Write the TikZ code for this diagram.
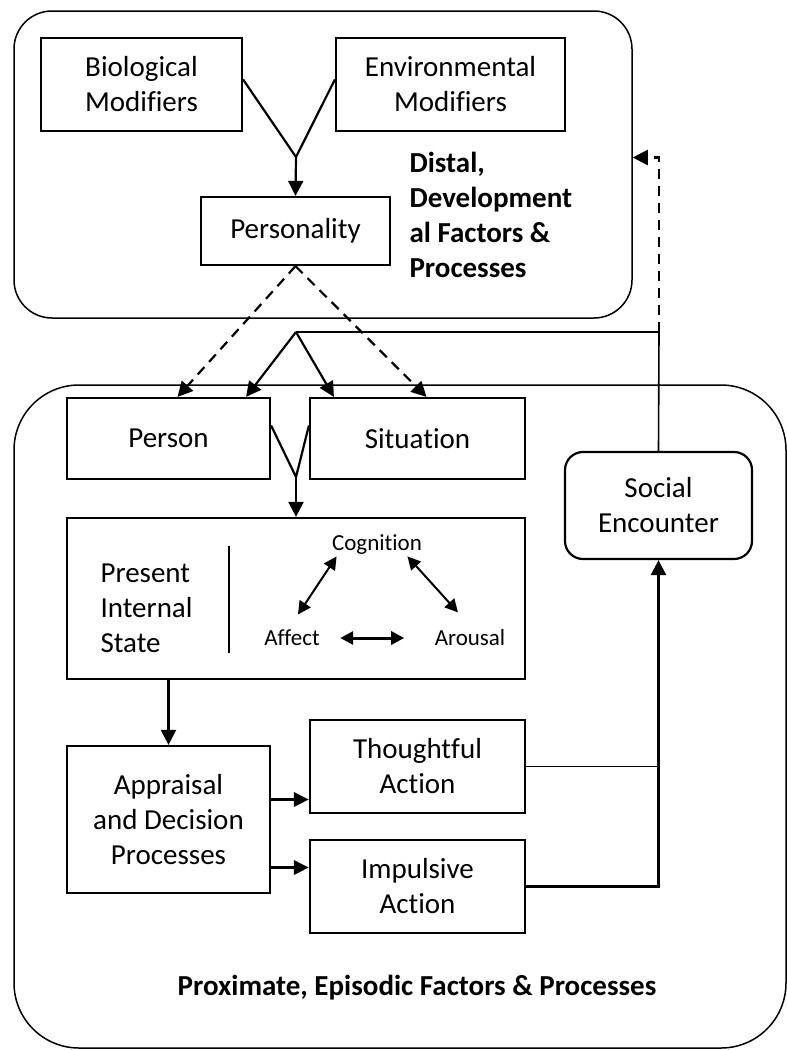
\documentclass[tikz,border=0pt]{standalone}
\usepackage{fontspec}
\setmainfont{Carlito}[Ligatures={NoCommon}]
\usetikzlibrary{arrows.meta}

\tikzset{
	box/.style = {draw, line width=2.2pt, align=center, inner sep=0pt, font=\fontsize{29}{35}\selectfont},
	frame/.style = {draw, line width=1.5pt, inner sep=0pt},
	arr/.style = {line width=2.2pt, -{Triangle[length=15pt,width=15pt]}},
	fat/.style = {line width=3pt, -{Triangle[length=15pt,width=14pt]}},
	dbl/.style = {line width=2pt, {Triangle[length=13pt,width=13pt]}-{Triangle[length=13pt,width=13pt]}},
	dashline/.style = {dash pattern=on 10pt off 7pt},
	small/.style = {font=\fontsize{23}{28}\selectfont},
	title/.style = {font=\bfseries\fontsize{29}{35}\selectfont, align=left},
}

\begin{document}
\begin{tikzpicture}[x=1pt,y=-1pt]
	\useasboundingbox (0,0) rectangle (787,1050);
	% frames
	\node [frame, rounded corners=38pt, minimum width=618pt, minimum height=307pt] (distal) at (323,164.5) {};
	\node [frame, rounded corners=65pt, minimum width=772pt, minimum height=663pt] (proximate) at (400,716.5) {};
	% distal part
	\node [box, minimum width=201pt, minimum height=93pt] (bio) at (141.5,84.5) {Biological\\Modifiers};
	\node [box, minimum width=229pt, minimum height=93pt] (env) at (450.5,84.5) {Environmental\\Modifiers};
	\node [box, minimum width=189pt, minimum height=68pt] (pers) at (295.5,231) {Personality};
	\node [title, anchor=west] (distaltxt) at (406,215) {Distal,\\Development\\al Factors \&\\Processes};
	% proximate part
	\node [box, minimum width=203pt, minimum height=81pt] (person) at (168.5,438.5) {Person};
	\node [box, minimum width=215pt, minimum height=81pt] (sit) at (417.5,438.5) {Situation};
	\node [box, minimum width=458pt, minimum height=161pt] (pis) at (296,598.5) {};
	\node [font=\fontsize{29}{35}\selectfont, align=left, anchor=west] (pistxt) at (97,608) {Present\\Internal\\State};
	\node [small] (cog) at (377,545) {Cognition};
	\node [small] (aff) at (292,638) {Affect};
	\node [small] (aro) at (470,638) {Arousal};
	\node [box, rounded corners=18pt, minimum width=187pt, minimum height=107pt] (soc) at (658.5,505.5) {Social\\Encounter};
	\node [box, minimum width=203pt, minimum height=147pt] (app) at (168.5,819.5) {Appraisal\\and Decision\\Processes};
	\node [box, minimum width=215pt, minimum height=93pt] (tho) at (417.5,766.5) {Thoughtful\\Action};
	\node [box, minimum width=215pt, minimum height=93pt] (imp) at (417.5,886.5) {Impulsive\\Action};
	\node [title] (proxtxt) at (417,988) {Proximate, Episodic Factors \& Processes};

	\coordinate (j1) at (296,157);
	\draw [line width=2.2pt] ([yshift=5pt]bio.east) -- (j1) -- ([yshift=5pt]env.west);
	\draw [arr] (j1) -- (pers.north);
	\draw [arr, dashline] (pers.south) -- ([xshift=9pt]person.north);
	\draw [arr, dashline] (pers.south) -- ([xshift=9pt]sit.north);

	\coordinate (j2) at (296,332);
	\coordinate (c1) at (659,332);
	\draw [line width=1.6pt] (soc.north) -- (c1) -- (j2);
	\draw [arr] (j2) -- ([xshift=-25pt]person.north east);
	\draw [arr] (j2) -- ([xshift=25pt]sit.north west);
	\draw [arr, dashline] (c1) |- ([yshift=7pt]distal.east);

	\coordinate (j3) at (296,477);
	\draw [line width=2.2pt] ([yshift=13pt]person.east) -- (j3) -- ([yshift=13pt]sit.west);
	\draw [arr] (j3) -- (pis.north);

	\draw [line width=2pt] (229,546) -- (229,653);
	\draw [dbl] ([shift={(8,-2)}]cog.south west) -- ([shift={(6,-12)}]aff.north);
	\draw [dbl] ([shift={(-18,-2)}]cog.south east) -- ([shift={(-12,-14)}]aro.north);
	\draw [dbl, line width=3pt] ([xshift=17pt]aff.east) -- ([xshift=-27pt]aro.west);

	\draw [arr] (pis.south -| app.north) -- (app.north);
	\coordinate (t1) at ([yshift=-33pt]tho.west);
	\coordinate (i1) at ([yshift=19pt]imp.west);
	\draw [fat] (app.east |- t1) -- (t1);
	\draw [fat] (app.east |- i1) -- (i1);
	\draw [line width=1.6pt] (tho.east) -- (tho.east -| soc.south);
	\draw [arr, line width=2.6pt] (imp.east) -| (soc.south);
\end{tikzpicture}
\end{document}
